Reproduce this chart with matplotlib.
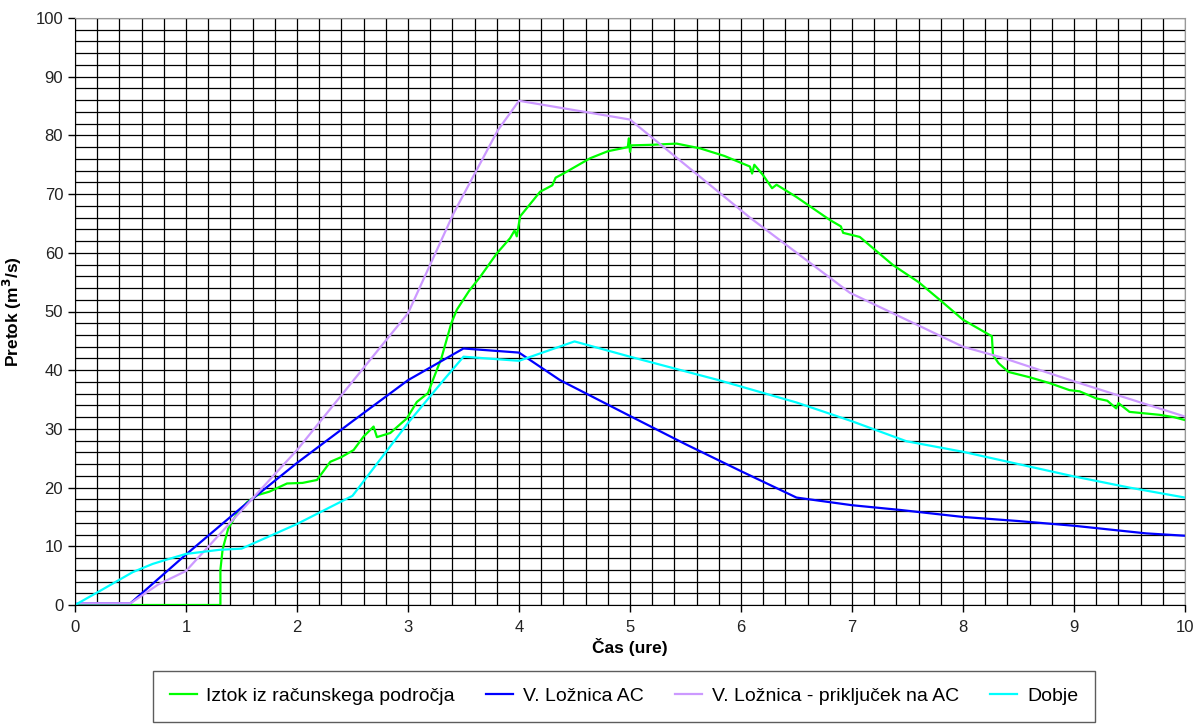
import numpy as np
import matplotlib
matplotlib.use("Agg")
import matplotlib.pyplot as plt
from matplotlib.ticker import MultipleLocator

plt.rcParams['font.family'] = ['Liberation Sans', 'DejaVu Sans']

# hidrogrami (cas v urah, pretok v m3/s)
t_iztok = [0, 1.31, 1.31, 1.33, 1.38, 1.46, 1.55, 1.64, 1.75, 1.91, 2.05, 2.18, 2.30, 2.40,
           2.51, 2.60, 2.69, 2.72, 2.84, 2.99, 3.08, 3.18, 3.23, 3.30, 3.39, 3.44, 3.55,
           3.65, 3.80, 3.92, 3.96, 3.98, 4.01, 4.19, 4.30, 4.33, 4.40, 4.64, 4.80, 4.98,
           4.99, 5.00, 5.01, 5.20, 5.42, 5.63, 5.85, 6.08, 6.10, 6.12, 6.20, 6.28, 6.32,
           6.50, 6.80, 6.90, 6.92, 7.07, 7.37, 7.60, 7.79, 8.00, 8.24, 8.26, 8.27, 8.32,
           8.41, 8.60, 8.78, 8.96, 9.05, 9.20, 9.30, 9.38, 9.40, 9.50, 9.77, 9.90, 10.0]
q_iztok = [0, 0, 6.0, 9.5, 13.0, 15.6, 17.5, 18.7, 19.3, 20.7, 20.8, 21.3, 24.4, 25.2,
           26.4, 28.7, 30.4, 28.6, 29.3, 31.8, 34.6, 36.1, 38.6, 42.0, 48.0, 50.3, 53.5,
           55.9, 59.9, 62.5, 63.8, 62.8, 66.2, 70.4, 71.5, 72.8, 73.5, 76.1, 77.3, 78.0,
           79.5, 77.2, 78.3, 78.4, 78.6, 77.8, 76.5, 74.7, 73.5, 75.0, 73.2, 71.0, 71.6,
           69.5, 65.6, 64.5, 63.4, 62.7, 57.9, 55.0, 52.0, 48.6, 46.0, 45.8, 42.6, 41.2,
           39.7, 38.8, 37.8, 36.6, 36.4, 35.2, 34.8, 33.5, 34.4, 32.9, 32.4, 32.0, 31.5]

t_loznica = [0, 0.5, 1.0, 1.5, 2.0, 2.5, 3.0, 3.5, 4.0, 4.37, 5.0, 5.5, 6.0, 6.5, 7.0,
             7.43, 8.0, 8.5, 9.0, 9.65, 10.0]
q_loznica = [0.3, 0.3, 8.6, 16.6, 24.2, 31.3, 38.3, 43.7, 43.0, 38.3, 32.2, 27.4, 22.8,
             18.3, 17.0, 16.2, 15.0, 14.3, 13.5, 12.2, 11.8]

t_prikljucek = [0, 0.5, 0.75, 1.0, 2.0, 2.51, 3.0, 3.41, 3.81, 4.0, 5.0, 6.08, 6.98, 8.0,
                8.36, 9.0, 10.0]
q_prikljucek = [0.3, 0.3, 3.5, 5.8, 26.4, 38.3, 49.7, 66.7, 80.9, 85.9, 82.7, 66.0, 53.2,
                44.0, 42.1, 38.1, 32.1]

t_dobje = [0, 0.225, 0.52, 0.7, 0.82, 1.0, 1.3, 1.5, 2.0, 2.5, 3.0, 3.32, 3.5, 4.0, 4.5,
           5.0, 5.8, 6.5, 7.0, 7.49, 8.0, 8.5, 9.0, 9.5, 10.0]
q_dobje = [0, 2.4, 5.6, 7.0, 7.7, 8.7, 9.4, 9.6, 13.8, 18.6, 31.0, 38.3, 42.3, 41.6, 44.9,
           42.3, 38.3, 34.5, 31.3, 27.9, 26.1, 24.0, 21.9, 20.0, 18.3]

fig = plt.figure(figsize=(11.97, 7.24), dpi=100)
ax = fig.add_axes([75 / 1197, 1 - 605 / 724, 1110 / 1197, 587 / 724])

lw = 1.6
l1, = ax.plot(t_iztok, q_iztok, color='#00FF00', lw=lw, label='Iztok iz računskega področja')
l2, = ax.plot(t_loznica, q_loznica, color='#0000FF', lw=lw, label='V. Ložnica AC')
l3, = ax.plot(t_prikljucek, q_prikljucek, color='#CC99FF', lw=lw,
              label='V. Ložnica - priključek na AC')
l4, = ax.plot(t_dobje, q_dobje, color='#00FFFF', lw=lw, label='Dobje')

ax.set_xlim(0, 10)
ax.set_ylim(0, 100)
ax.xaxis.set_major_locator(MultipleLocator(1))
ax.xaxis.set_minor_locator(MultipleLocator(0.2))
ax.yaxis.set_major_locator(MultipleLocator(10))
ax.yaxis.set_minor_locator(MultipleLocator(2))
ax.grid(which='both', color='black', lw=0.9)
ax.set_axisbelow(True)
ax.tick_params(which='major', direction='out', length=5, width=1, labelsize=12,
               labelcolor='#222222')
ax.tick_params(which='minor', length=0)
ax.tick_params(axis='x', pad=6)

ax.spines['top'].set_color('#999999')
ax.spines['right'].set_color('#999999')
for s in ('left', 'bottom'):
    ax.spines[s].set_color('black')

ax.set_xlabel('Čas (ure)', fontsize=12.5, fontweight='bold', labelpad=2)
ax.set_ylabel('Pretok (m$^\\mathbf{3}$/s)', fontsize=12.5, fontweight='bold', labelpad=8)

leg = fig.legend(handles=[l1, l2, l3, l4], loc='upper left', ncol=4,
                 bbox_to_anchor=(153 / 1197, 1 - 671 / 724),
                 fontsize=14, frameon=True, fancybox=False,
                 edgecolor='#333333', handlelength=1.4, handletextpad=0.5,
                 borderaxespad=0, columnspacing=1.6, borderpad=0.85)
leg.get_frame().set_linewidth(1.0)

fig.savefig('out.png', dpi=100)
